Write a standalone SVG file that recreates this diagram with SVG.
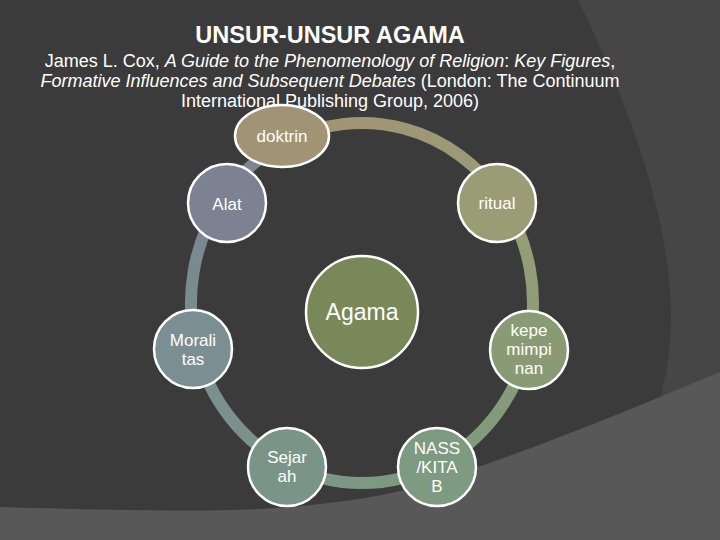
<svg xmlns="http://www.w3.org/2000/svg" width="720" height="540" viewBox="0 0 720 540">
<style>
.t{font-family:"Liberation Sans",Arial,sans-serif;fill:#ffffff}
.i{font-style:italic}
.node{stroke:#ffffff;stroke-width:2.5}
.lbl{font-family:"Liberation Sans",Arial,sans-serif;fill:#ffffff;font-size:17px;text-anchor:middle}
.big{font-size:23px}
.ring{fill:none;stroke-width:12}
</style>
<defs>
<linearGradient id="gDR" gradientUnits="userSpaceOnUse" x1="287" y1="141" x2="501" y2="198"><stop offset="0" stop-color="#a09474"/><stop offset="1" stop-color="#9b9a77"/></linearGradient>
<linearGradient id="gRK" gradientUnits="userSpaceOnUse" x1="501" y1="198" x2="528" y2="346"><stop offset="0" stop-color="#9a9d77"/><stop offset="1" stop-color="#8b9c76"/></linearGradient>
<linearGradient id="gKN" gradientUnits="userSpaceOnUse" x1="528" y1="346" x2="437" y2="465"><stop offset="0" stop-color="#889b76"/><stop offset="1" stop-color="#7f9a7e"/></linearGradient>
<linearGradient id="gNS" gradientUnits="userSpaceOnUse" x1="437" y1="465" x2="287" y2="465"><stop offset="0" stop-color="#7e9a80"/><stop offset="1" stop-color="#7b9586"/></linearGradient>
<linearGradient id="gSM" gradientUnits="userSpaceOnUse" x1="287" y1="465" x2="197" y2="350"><stop offset="0" stop-color="#7b9488"/><stop offset="1" stop-color="#7a8e90"/></linearGradient>
<linearGradient id="gMA" gradientUnits="userSpaceOnUse" x1="197" y1="350" x2="223" y2="198"><stop offset="0" stop-color="#7a8e91"/><stop offset="1" stop-color="#7b8590"/></linearGradient>
<linearGradient id="gAD" gradientUnits="userSpaceOnUse" x1="223" y1="198" x2="287" y2="141"><stop offset="0" stop-color="#7b8490"/><stop offset="1" stop-color="#7e8590"/></linearGradient>
</defs>

<g id="background">
<rect x="0" y="0" width="720" height="540" fill="#3b3b3b"/>
<path d="M578,0 Q700,250 662,390 L660,540 L720,540 L720,0 Z" fill="#464646"/>
<path d="M0,507 C100,510 200,512 260,509 C330,505 380,497 420,486 C520,455 620,414 720,372 L720,540 L0,540 Z" fill="#585858"/>
</g>

<g id="title">
<text class="t" x="330" y="43" font-size="23.5" font-weight="bold" text-anchor="middle">UNSUR-UNSUR AGAMA</text>
<text class="t" x="330" y="67" font-size="18" text-anchor="middle">James L. Cox, <tspan class="i">A Guide to the Phenomenology of Religion</tspan>: <tspan class="i">Key Figures</tspan>,</text>
<text class="t" x="330" y="87" font-size="18" text-anchor="middle"><tspan class="i">Formative Influences and Subsequent Debates</tspan> (London: The Continuum</text>
<text class="t" x="330" y="107" font-size="18" text-anchor="middle">International Publishing Group, 2006)</text>
</g>

<g id="connectors">
<path class="ring" stroke="url(#gDR)" d="M287,141.2 A171,180 0 0 1 501.2,198.5"/>
<path class="ring" stroke="url(#gRK)" d="M501.2,198.5 A171,180 0 0 1 527.9,346.5"/>
<path class="ring" stroke="url(#gKN)" d="M527.9,346.5 A171,180 0 0 1 437,464.8"/>
<path class="ring" stroke="url(#gNS)" d="M437,464.8 A171,180 0 0 1 287,464.8"/>
<path class="ring" stroke="url(#gSM)" d="M287,464.8 A171,180 0 0 1 196.8,349.6"/>
<path class="ring" stroke="url(#gMA)" d="M196.8,349.6 A171,180 0 0 1 222.8,198.5"/>
<path class="ring" stroke="url(#gAD)" d="M222.8,198.5 A171,180 0 0 1 287,141.2"/>
</g>

<g id="node-agama">
<circle class="node" cx="362" cy="312" r="56" fill="#788858"/>
<text class="lbl big" x="362" y="320">Agama</text>
</g>
<g id="node-doktrin">
<ellipse class="node" cx="282" cy="136" rx="47" ry="31" fill="#a09474"/>
<text class="lbl" x="282" y="142">doktrin</text>
</g>
<g id="node-ritual">
<circle class="node" cx="497" cy="203" r="39" fill="#9a9c76"/>
<text class="lbl" x="497" y="209">ritual</text>
</g>
<g id="node-kepemimpinan">
<circle class="node" cx="529" cy="350" r="39" fill="#899b75"/>
<text class="lbl" x="529" y="336">kepe</text>
<text class="lbl" x="529" y="355">mimpi</text>
<text class="lbl" x="529" y="374">nan</text>
</g>
<g id="node-nass">
<circle class="node" cx="437" cy="467" r="39" fill="#7e9a80"/>
<text class="lbl" x="437" y="454">NASS</text>
<text class="lbl" x="437" y="473">/KITA</text>
<text class="lbl" x="437" y="492">B</text>
</g>
<g id="node-sejarah">
<circle class="node" cx="287" cy="467" r="39" fill="#7b9488"/>
<text class="lbl" x="287" y="463">Sejar</text>
<text class="lbl" x="287" y="482">ah</text>
</g>
<g id="node-moralitas">
<circle class="node" cx="193" cy="349" r="39" fill="#7b8e92"/>
<text class="lbl" x="193" y="346">Morali</text>
<text class="lbl" x="193" y="365">tas</text>
</g>
<g id="node-alat">
<circle class="node" cx="227" cy="203" r="39" fill="#7c8291"/>
<text class="lbl" x="227" y="210">Alat</text>
</g>
</svg>
